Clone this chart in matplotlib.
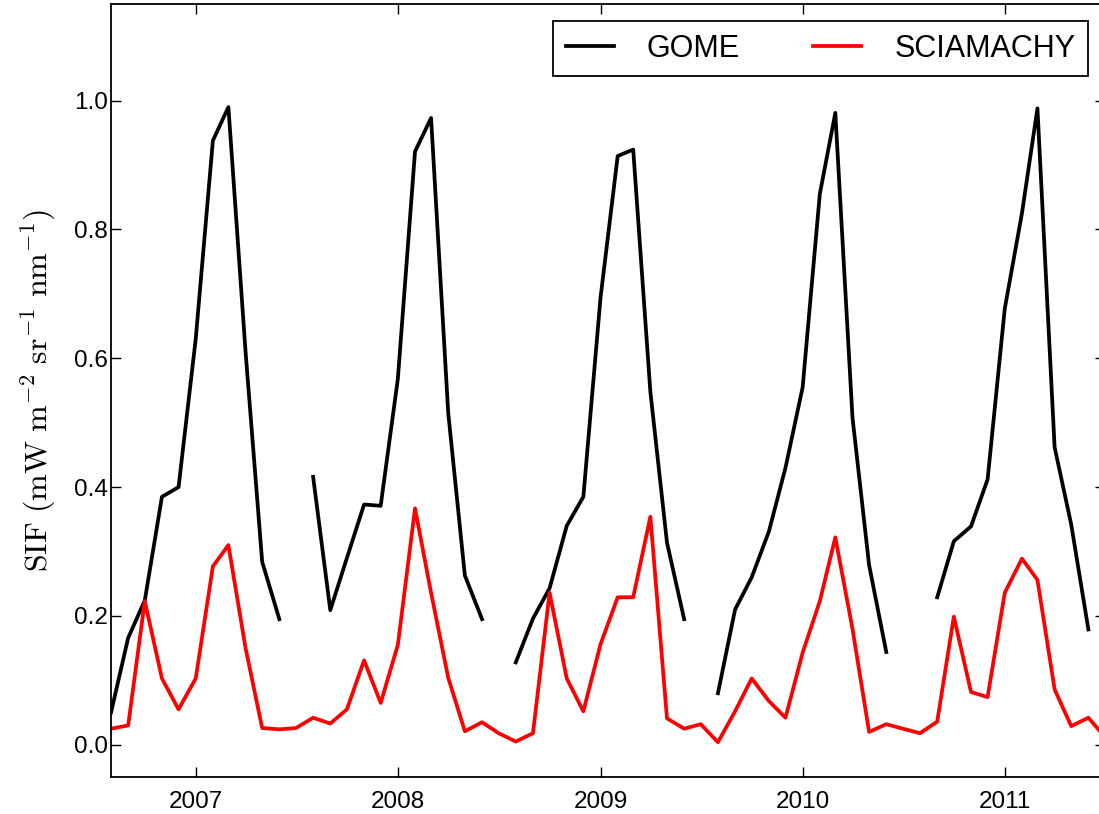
import numpy as np
import pandas as pd
import matplotlib
matplotlib.use("Agg")
import matplotlib.pyplot as plt
import matplotlib.dates as mdates

# Monthly dates Aug 2006 .. Jul 2011
months = pd.date_range("2006-08-01", "2011-07-01", freq="MS")

nan = np.nan
gome = [
    # 2006 Aug-Dec
    0.050, 0.166, 0.224, 0.385, 0.400,
    # 2007
    0.630, 0.938, 0.990, 0.610, 0.284, 0.195, nan, 0.416, 0.209, 0.290, 0.373, 0.371,
    # 2008
    0.568, 0.921, 0.973, 0.515, 0.263, 0.195, nan, 0.128, 0.196, 0.243, 0.340, 0.385,
    # 2009
    0.694, 0.914, 0.924, 0.548, 0.314, 0.195, nan, 0.080, 0.210, 0.260, 0.331, 0.430,
    # 2010
    0.555, 0.855, 0.981, 0.508, 0.279, 0.144, nan, nan, 0.229, 0.316, 0.339, 0.412,
    # 2011
    0.677, 0.825, 0.988, 0.462, 0.342, 0.179, nan,
]
sciamachy = [
    # 2006 Aug-Dec
    0.025, 0.030, 0.223, 0.103, 0.055,
    # 2007
    0.103, 0.277, 0.310, 0.150, 0.026, 0.024, 0.026, 0.042, 0.033, 0.055, 0.131, 0.065,
    # 2008
    0.155, 0.367, 0.236, 0.104, 0.021, 0.035, 0.018, 0.005, 0.018, 0.236, 0.103, 0.052,
    # 2009
    0.156, 0.229, 0.229, 0.354, 0.041, 0.025, 0.032, 0.004, 0.052, 0.103, 0.068, 0.042,
    # 2010
    0.143, 0.223, 0.322, 0.180, 0.020, 0.032, 0.025, 0.018, 0.036, 0.199, 0.082, 0.074,
    # 2011
    0.236, 0.289, 0.256, 0.086, 0.029, 0.042, 0.012,
]
labels = ["GOME", "SCIAMACHY"]
yticks = [0.0, 0.2, 0.4, 0.6, 0.8, 1.0]

plt.rcParams["font.family"] = ["Liberation Sans", "DejaVu Sans"]
plt.rcParams["mathtext.fontset"] = "cm"

W, H = 1099, 814
fig = plt.figure(figsize=(W / 100, H / 100), dpi=100)
# the axes extends slightly past the right edge of the figure (cropped look)
ax = fig.add_axes([111 / W, 1 - 777 / H, (1105 - 111) / W, (777 - 4) / H])

ax.plot(months, gome, color="black", lw=2.7, label=labels[0])
ax.plot(months, sciamachy, color="red", lw=2.7, label=labels[1])

ax.set_xlim(months[0], months[-1])
ax.set_ylim(-0.05, 1.15)
ax.set_yticks(yticks)
ax.set_yticklabels([f"{v:.1f}" for v in yticks])
ax.xaxis.set_major_locator(mdates.YearLocator())
ax.xaxis.set_major_formatter(mdates.DateFormatter("%Y"))

ax.tick_params(direction="in", length=7, width=1, labelsize=17.5,
               top=True, right=True)
ax.tick_params(axis="x", pad=10)
ax.tick_params(axis="y", pad=2)
for s in ax.spines.values():
    s.set_linewidth(1.3)

ax.set_ylabel(r"$\mathrm{SIF\ (mW\ m^{-2}\ sr^{-1}\ nm^{-1})}$", fontsize=23, labelpad=12)

leg = ax.legend(loc="upper right", ncol=2, fontsize=22, fancybox=False,
                edgecolor="black", framealpha=1, handlelength=1.57,
                handletextpad=1.08, columnspacing=2.4,
                borderaxespad=0.55, borderpad=0.42)
leg.get_frame().set_linewidth(1.3)

fig.savefig("out.png", dpi=100)
